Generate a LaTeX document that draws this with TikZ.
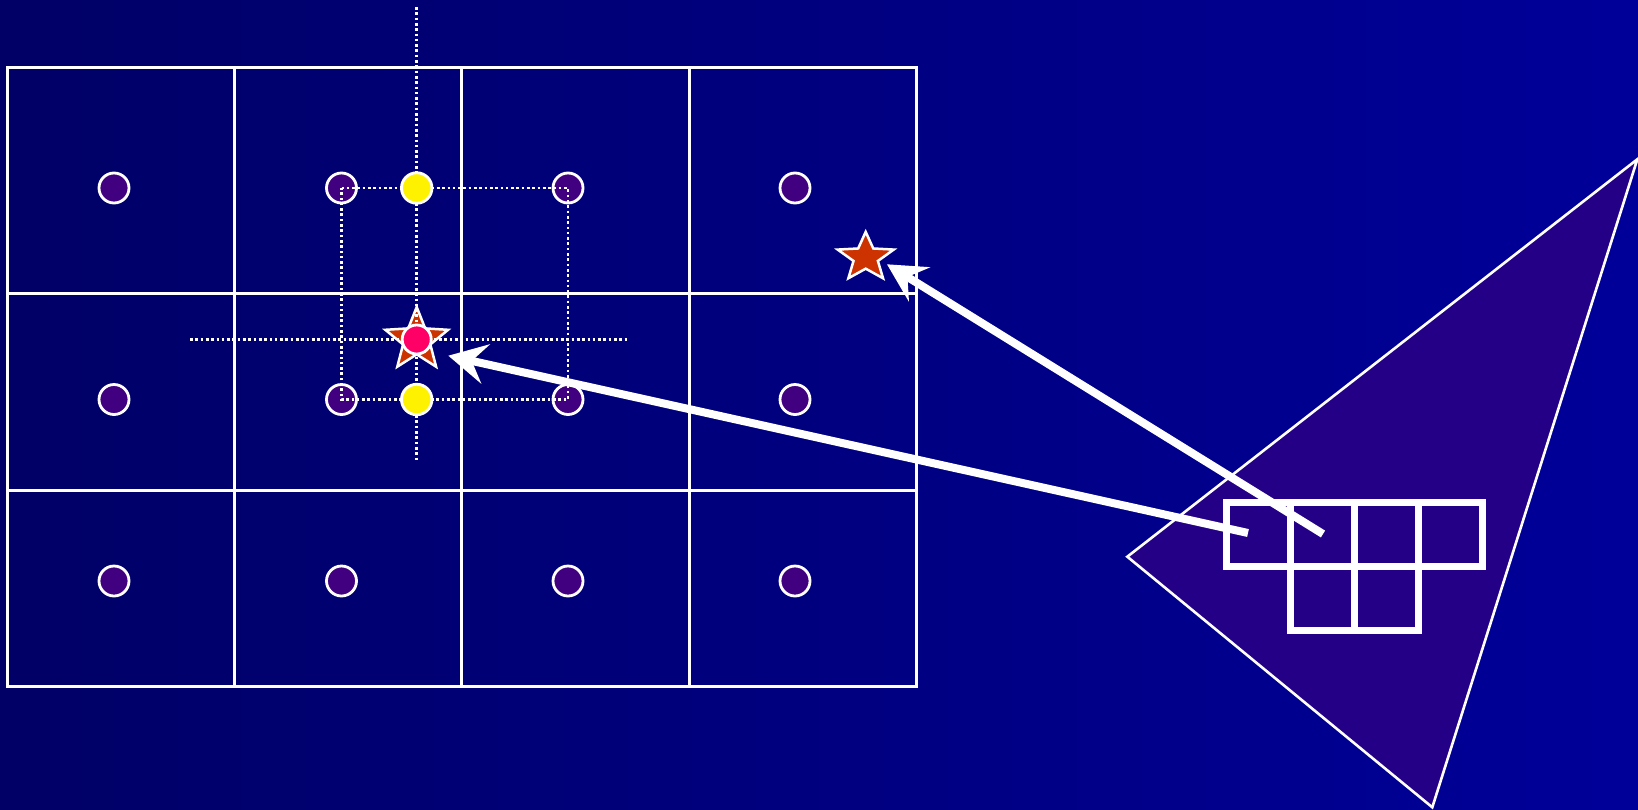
\documentclass[tikz,border=0pt]{standalone}
\usetikzlibrary{shapes.geometric,arrows.meta}
\definecolor{bgleft}{RGB}{0,0,102}
\definecolor{bgright}{RGB}{0,0,153}
\definecolor{dotfill}{RGB}{64,0,128}
\definecolor{trifill}{RGB}{36,0,135}
\definecolor{starred}{RGB}{204,51,0}
\definecolor{pinkc}{RGB}{255,0,102}
\begin{document}
\begin{tikzpicture}[x=1pt,y=-1pt,
  gridline/.style={draw=white,line width=3pt},
  sample/.style={circle,draw=white,line width=2.8pt,fill=dotfill,minimum size=30pt,inner sep=0pt},
  hit/.style={circle,draw=white,line width=2.8pt,fill=yellow,minimum size=30.5pt,inner sep=0pt},
  interp/.style={circle,draw=white,line width=2.8pt,fill=pinkc,minimum size=29pt,inner sep=0pt},
  dotline/.style={draw=white,line width=2.6pt,dash pattern=on 2.6pt off 2.7pt},
  starshape/.style={star,star points=5,star point ratio=2.3,draw=white,line width=2.5pt,fill=starred,inner sep=0pt},
  footprint/.style={draw=white,line width=6.5pt,line join=miter},
  bigarrow/.style={draw=white,line width=8pt,-{Stealth[length=38pt,width=40pt,inset=14pt]}},
  tri/.style={draw=white,line width=2.6pt,fill=trifill,line join=miter}
]
\useasboundingbox (0,0) rectangle (1638,809);
\fill[left color=bgleft,right color=bgright] (0,0) rectangle (1638,809);

% triangle
\draw[tri] (1637.3,159.3) -- (1127.3,556.7) -- (1432.3,807.3) -- cycle;

% big grid
\draw[gridline] (7,67) rectangle (916,686);
\draw[gridline] (234.5,67) -- (234.5,686);
\draw[gridline] (461.5,67) -- (461.5,686);
\draw[gridline] (689,67) -- (689,686);
\draw[gridline] (7,293.5) -- (916,293.5);
\draw[gridline] (7,490) -- (916,490);

% sample circles
\node[sample] (c11) at (114,188) {};
\node[sample] (c12) at (341.5,188) {};
\node[sample] (c13) at (568,188) {};
\node[sample] (c14) at (795,188) {};
\node[sample] (c21) at (114,399.5) {};
\node[sample] (c22) at (341.5,399.5) {};
\node[sample] (c23) at (568,399.5) {};
\node[sample] (c24) at (795,399.5) {};
\node[sample] (c31) at (114,581) {};
\node[sample] (c32) at (341.5,581) {};
\node[sample] (c33) at (568,581) {};
\node[sample] (c34) at (795,581) {};

% stars
\node[starshape,minimum size=66pt] (s1) at (416.7,340) {};
\begin{scope}[shift={(865.7,257.5)},yscale=0.87]
  \node[starshape,minimum size=59pt,transform shape] (s2) at (0,0) {};
\end{scope}

% dotted construction lines
\draw[dotline] (416.7,7) -- (416.7,460);
\draw[dotline] (190,339.5) -- (628,339.5);
\draw[dotline] (c12.center) -- (c13.center) -- (c23.center) -- (c22.center) -- cycle;

% interpolated samples
\node[hit] (y1) at (416.7,188) {};
\node[hit] (y2) at (416.7,399.5) {};
\node[interp] (p1) at (416.7,339.5) {};

% footprint cells
\draw[footprint] (1226.7,502.3) rectangle (1290.7,566.3);
\draw[footprint] (1290.7,502.3) rectangle (1354.7,566.3);
\draw[footprint] (1354.7,502.3) rectangle (1418.7,566.3);
\draw[footprint] (1418.7,502.3) rectangle (1482.7,566.3);
\draw[footprint] (1290.7,566.3) rectangle (1354.7,630.3);
\draw[footprint] (1354.7,566.3) rectangle (1418.7,630.3);

% arrows
\coordinate (t1) at (1248,533);
\coordinate (h1) at (448.3,355.7);
\coordinate (t2) at (1323,534);
\coordinate (h2) at (887,264.3);
\draw[bigarrow] (t1) -- (h1);
\draw[bigarrow] (t2) -- (h2);
\end{tikzpicture}
\end{document}
